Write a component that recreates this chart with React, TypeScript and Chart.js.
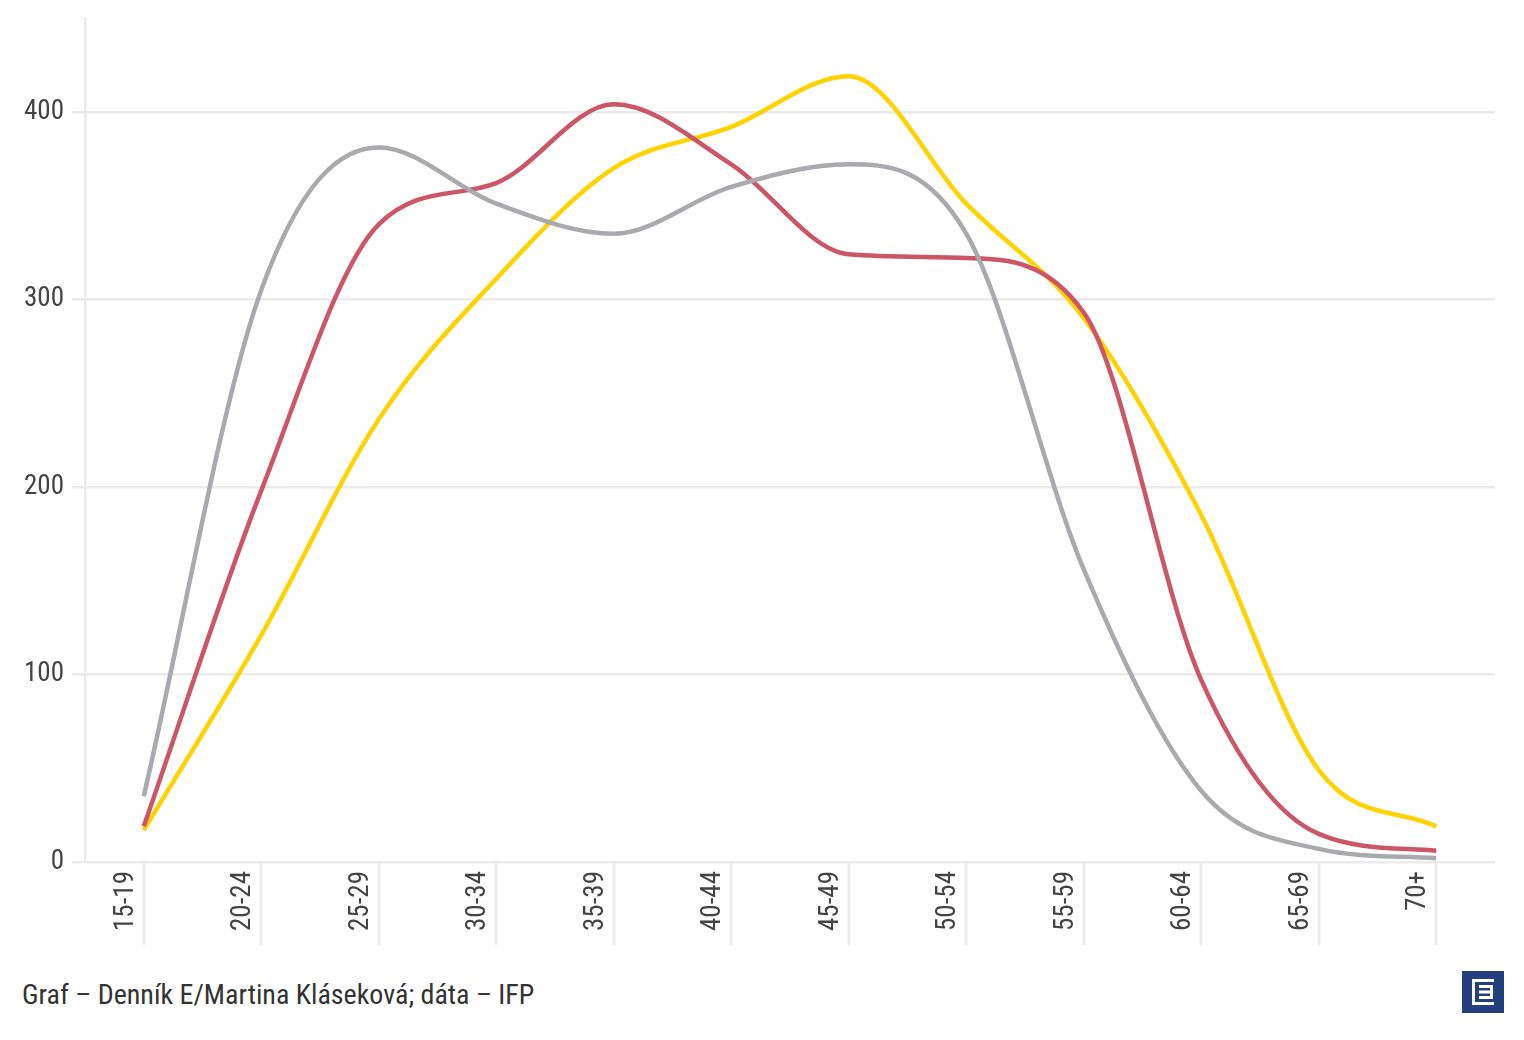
import React, { useEffect, useRef } from "react";
import { Chart, registerables } from "chart.js";

Chart.register(...registerables);

const categories = ["15-19", "20-24", "25-29", "30-34", "35-39", "40-44", "45-49", "50-54", "55-59", "60-64", "65-69", "70+"];
const graySeries = [35, 305, 381, 351, 335, 360, 372, 335, 156, 38, 7, 2];
const redSeries = [19, 198, 340, 362, 404, 372, 324, 322, 293, 97, 15, 6];
const yellowSeries = [17, 121, 236, 311, 370, 392, 419, 351, 290, 185, 49, 19];
const yTicks = [0, 100, 200, 300, 400];

const FONT = "'Roboto Condensed', 'Liberation Sans Narrow', 'DejaVu Sans Condensed', Roboto, sans-serif";
const GRID = "#ebebeb";

const longTicks = {
  id: "longTicks",
  afterDraw(chart: any) {
    const x = chart.scales.x;
    const ctx = chart.ctx;
    ctx.save();
    ctx.strokeStyle = GRID;
    ctx.lineWidth = 3;
    for (let i = 0; i < categories.length; i++) {
      const px = Math.round(x.getPixelForTick(i));
      ctx.beginPath();
      ctx.moveTo(px, chart.chartArea.bottom);
      ctx.lineTo(px, chart.chartArea.bottom + 83);
      ctx.stroke();
    }
    ctx.restore();
  },
};

export default function App() {
  const ref = useRef<HTMLCanvasElement | null>(null);
  useEffect(() => {
    if (!ref.current) return;
    const chart = new Chart(ref.current, {
      type: "line",
      data: {
        labels: categories,
        datasets: [
          { label: "gray", data: graySeries, borderColor: "#a8aaae", borderWidth: 4.5, pointRadius: 0, cubicInterpolationMode: "monotone", fill: false },
          { label: "red", data: redSeries, borderColor: "#cc5567", borderWidth: 4.5, pointRadius: 0, cubicInterpolationMode: "monotone", fill: false },
          { label: "yellow", data: yellowSeries, borderColor: "#ffd200", borderWidth: 4.5, pointRadius: 0, cubicInterpolationMode: "monotone", fill: false },
        ],
      },
      options: {
        animation: false,
        responsive: true,
        maintainAspectRatio: false,
        layout: { padding: { top: 10, right: 21, left: 0, bottom: 0 } },
        plugins: { legend: { display: false }, tooltip: { enabled: false } },
        scales: {
          x: {
            offset: true,
            grid: { display: false, drawOnChartArea: false },
            border: { display: false },
            ticks: {
              color: "#444444",
              font: { family: FONT, size: 27 },
              maxRotation: 90,
              minRotation: 90,
              padding: 1,
              labelOffset: -18,
              autoSkip: false,
            },
            afterFit(scale: any) {
              scale.height = 84;
              scale.paddingLeft = 0;
              scale.paddingRight = 0;
            },
          },
          y: {
            min: 0,
            max: 450,
            afterBuildTicks(scale: any) {
              scale.ticks = yTicks.map((v) => ({ value: v }));
            },
            grid: { color: GRID, lineWidth: 2.5, tickLength: 13 },
            border: { display: true, color: GRID, width: 2.5 },
            ticks: {
              color: "#444444",
              font: { family: FONT, size: 27 },
              padding: 8,
              stepSize: 100,
            },
            afterFit(scale: any) {
              scale.width = 77;
              scale.paddingTop = 0;
              scale.paddingBottom = 0;
            },
          },
        },
      },
      plugins: [longTicks],
    } as any);
    return () => chart.destroy();
  }, []);

  return (
    <div style={{ position: "relative", width: 1508, height: 1020, fontFamily: FONT }}>
      <div style={{ position: "absolute", left: 0, top: 0, width: 1508, height: 938 }}>
        <canvas ref={ref} />
      </div>
      <div style={{ position: "absolute", left: 14, top: 970, fontSize: 28, color: "#333333", whiteSpace: "nowrap" }}>
        Graf – Denník E/Martina Kláseková; dáta – IFP
      </div>
      <svg style={{ position: "absolute", left: 1454, top: 963 }} width={42} height={42} viewBox="0 0 42 42">
        <rect x={0} y={0} width={42} height={42} fill="#22407f" />
        <path d="M10 8 H32 V11 H13 V31 H32 V34 H10 Z" fill="#ffffff" />
        <path d="M17 14 H31 V28 H17 V25 H28 V22.5 H17 V19.5 H28 V17 H17 Z" fill="#ffffff" />
      </svg>
    </div>
  );
}
